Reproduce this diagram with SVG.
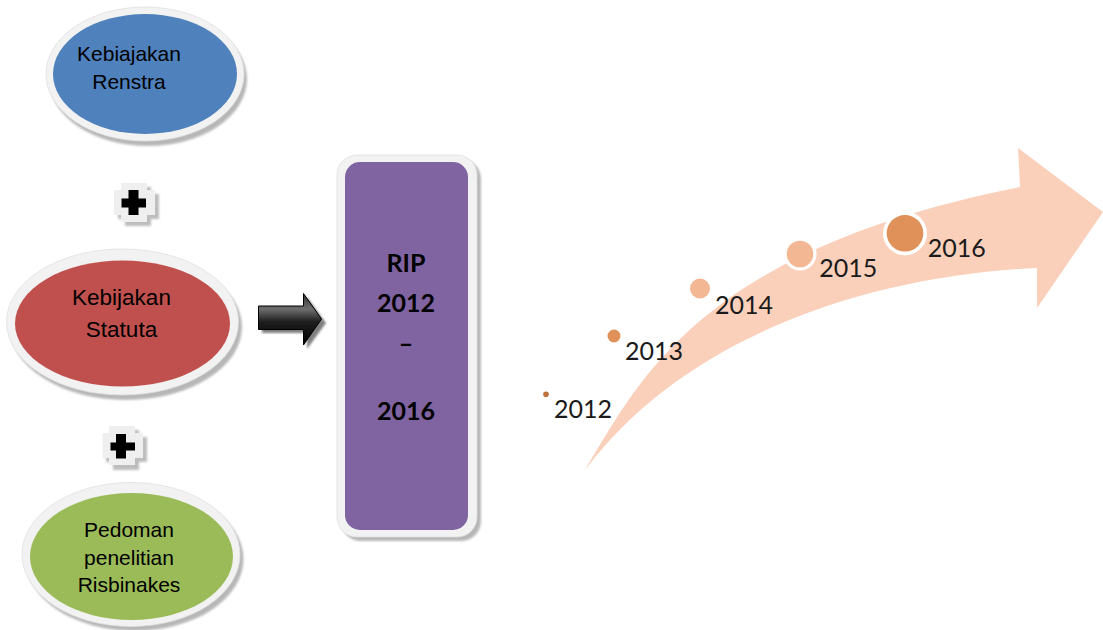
<svg xmlns="http://www.w3.org/2000/svg" width="1103" height="630" viewBox="0 0 1103 630">
  <style>
    .frame { fill: #F2F2F2; stroke: #E0E0E0; stroke-width: 0.8; }
    .shadow { fill: #A6A6A6; opacity: 0.8; }
    .lbl { font-family: "Liberation Sans", Arial, sans-serif; font-size: 21px; fill: #000; text-anchor: middle; }
    .rip { font-family: Lato, "Open Sans", sans-serif; font-weight: bold; font-size: 25px; fill: #000; text-anchor: middle; }
    .year { font-family: Lato, "Open Sans", sans-serif; font-size: 25px; fill: #1A1A1A; }
    .badge { fill: #EFEFEF; }
    .badge-shadow { fill: #BDBDBD; }
    .plus { fill: #000; }
  </style>
  <defs>
    <filter id="soft" x="-10%" y="-10%" width="120%" height="120%">
      <feGaussianBlur stdDeviation="1.2"/>
    </filter>
    <linearGradient id="arrowFill" x1="0" y1="0" x2="0" y2="1">
      <stop offset="0" stop-color="#2A2A2A"/>
      <stop offset="0.3" stop-color="#6E6E6E"/>
      <stop offset="0.55" stop-color="#1E1E1E"/>
      <stop offset="1" stop-color="#000"/>
    </linearGradient>
  </defs>

  <rect width="1103" height="630" fill="#FFFFFF"/>

  <!-- Kebiajakan Renstra -->
  <g id="node-renstra">
    <ellipse class="shadow" filter="url(#soft)" cx="148" cy="79" rx="99" ry="67"/>
    <ellipse class="frame" cx="145" cy="74" rx="99" ry="67"/>
    <ellipse cx="145" cy="74" rx="92" ry="60" fill="#4F81BD"/>
    <text class="lbl" x="129" y="61">Kebiajakan</text>
    <text class="lbl" x="129" y="89">Renstra</text>
  </g>

  <!-- first plus -->
  <g id="plus-1">
    <path class="badge-shadow" filter="url(#soft)" d="M125,187 H151 V194 H159 V219 H151 V226 H125 V219 H118 V194 H125 Z"/>
    <path class="badge" d="M121,183 H147 V190 H155 V215 H147 V222 H121 V215 H114 V190 H121 Z"/>
    <path class="plus" d="M128.5,190 H138.5 V198.5 H146 V207.5 H138.5 V215 H128.5 V207.5 H121.5 V198.5 H128.5 Z"/>
  </g>

  <!-- Kebijakan Statuta -->
  <g id="node-statuta">
    <ellipse class="shadow" filter="url(#soft)" cx="126" cy="327" rx="116" ry="73"/>
    <ellipse class="frame" cx="122.5" cy="322" rx="116" ry="73"/>
    <ellipse cx="122.5" cy="323.5" rx="107.5" ry="63" fill="#C0504D"/>
    <text class="lbl" x="121.5" y="305" style="font-size:22.5px">Kebijakan</text>
    <text class="lbl" x="121.5" y="337" style="font-size:22.5px">Statuta</text>
  </g>

  <!-- second plus -->
  <g id="plus-2">
    <path class="badge-shadow" filter="url(#soft)" d="M113,430 H139 V437 H147 V462 H139 V470 H113 V462 H106 V437 H113 Z"/>
    <path class="badge" d="M109,426 H135 V433 H143 V458 H135 V465 H109 V458 H102.5 V433 H109 Z"/>
    <path class="plus" d="M116,434 H126 V442.5 H135 V450.5 H126 V458.5 H116 V450.5 H110.5 V442.5 H116 Z"/>
  </g>

  <!-- Pedoman penelitian Risbinakes -->
  <g id="node-pedoman">
    <ellipse class="shadow" filter="url(#soft)" cx="134.5" cy="559" rx="109" ry="72"/>
    <ellipse class="frame" cx="131" cy="554.5" rx="109" ry="72"/>
    <ellipse cx="131.5" cy="556.5" rx="101.5" ry="63.5" fill="#9BBB59"/>
    <text class="lbl" x="129" y="537">Pedoman</text>
    <text class="lbl" x="129" y="565">penelitian</text>
    <text class="lbl" x="129" y="592">Risbinakes</text>
  </g>

  <!-- block arrow into the RIP box -->
  <g id="connectors">
    <path d="M262,310 H307 V297 L326,323 L307,349 V333 H262 Z" fill="#7F7F7F" filter="url(#soft)"/>
    <path d="M258.5,306 H303.5 V293.5 L321.5,319 L303.5,345 V329.5 H258.5 Z" fill="url(#arrowFill)" stroke="#000" stroke-width="1"/>
  </g>

  <!-- RIP 2012 – 2016 -->
  <g id="node-rip">
    <rect class="shadow" filter="url(#soft)" x="341" y="159" width="140" height="382" rx="20"/>
    <rect class="frame" x="337" y="155" width="140" height="382" rx="20"/>
    <rect x="345" y="162" width="123" height="368" rx="15" fill="#8064A2"/>
    <text class="rip" x="406" y="272">RIP</text>
    <text class="rip" x="406" y="312">2012</text>
    <text class="rip" x="406" y="352">–</text>
    <text class="rip" x="406" y="420">2016</text>
  </g>

  <!-- timeline 2012–2016 -->
  <g id="timeline">
    <path d="M585,470 C640,380 700,250 1020,187 L1018,148 L1103,212 L1037,308 L1037,268 C880,275 690,330 585,470 Z" fill="#FBD0BA"/>
    <circle cx="546" cy="394.3" r="4.5" fill="#FFFFFF"/>
    <circle cx="546" cy="394.3" r="2.8" fill="#C0703A"/>
    <circle cx="614" cy="336" r="8.5" fill="#FFFFFF"/>
    <circle cx="614" cy="336" r="6.5" fill="#E0915A"/>
    <circle cx="700" cy="288.5" r="12" fill="#FFFFFF"/>
    <circle cx="700" cy="288.5" r="10" fill="#F4B793"/>
    <circle cx="800" cy="254" r="16.5" fill="#FFFFFF"/>
    <circle cx="800" cy="254" r="13.3" fill="#F4B793"/>
    <circle cx="905" cy="233.3" r="22" fill="#FFFFFF"/>
    <circle cx="905" cy="233.3" r="18.3" fill="#E0915A"/>
    <text class="year" x="554" y="418.3">2012</text>
    <text class="year" x="625" y="360">2013</text>
    <text class="year" x="715" y="314">2014</text>
    <text class="year" x="819.3" y="277.3">2015</text>
    <text class="year" x="927.7" y="257.3">2016</text>
  </g>
</svg>
